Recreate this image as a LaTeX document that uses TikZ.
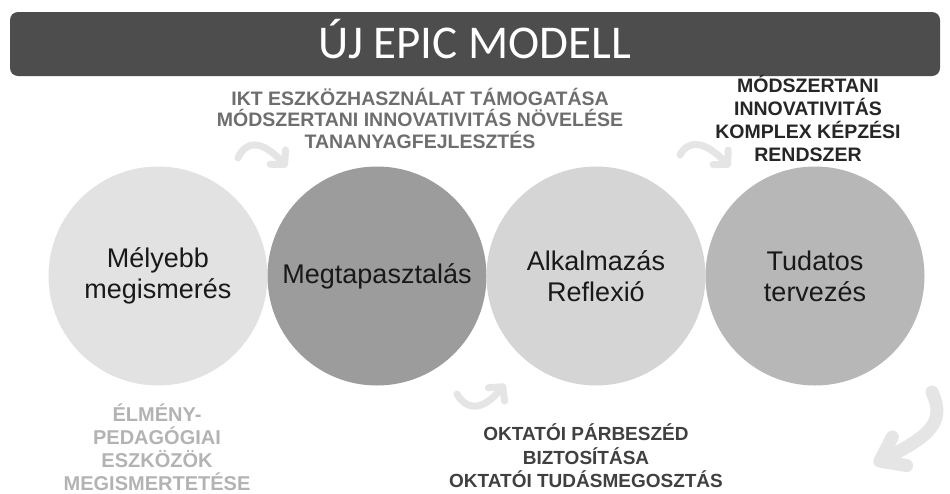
\documentclass[tikz,border=0pt]{standalone}
\usepackage{fontspec}
\setmainfont{Liberation Sans}
\newfontfamily\titlefont{Carlito}
\usetikzlibrary{arrows.meta}
\definecolor{barfill}{HTML}{4D4D4D}
\definecolor{circA}{HTML}{E2E2E2}
\definecolor{circB}{HTML}{9C9C9C}
\definecolor{circC}{HTML}{D5D5D5}
\definecolor{circD}{HTML}{B7B7B7}
\definecolor{swooshgrey}{HTML}{E5E5E5}
\definecolor{capgrey}{HTML}{6E6E6E}
\definecolor{capdark}{HTML}{262626}
\definecolor{caplight}{HTML}{B3B3B3}
\definecolor{capmid}{HTML}{404040}

\begin{document}
\begin{tikzpicture}[x=1pt,y=-1pt,
  stage/.style={circle,minimum size=219pt,inner sep=0pt,align=center,text=black!90,font=\fontsize{27}{31}\selectfont},
  caption/.style={align=center,font=\bfseries\fontsize{19.5}{21.5}\selectfont},
  swoosh/.style={draw=swooshgrey,line width=7pt,line cap=round,line join=round}]
\useasboundingbox (0,0) rectangle (950,493);
\node[fill=barfill,rounded corners=8pt,minimum width=930pt,minimum height=64pt,inner sep=0pt] (bar) at (475,44) {};
\node[anchor=base,text=white,font=\titlefont\fontsize{47}{50}\selectfont] (title) at (475,58) {ÚJ EPIC MODELL};
\draw[swoosh,-{Straight Barb[length=10pt,width=21pt,round]}]
  (238,158) .. controls (246,140) and (262,140) .. (287,167);
\draw[swoosh,-{Straight Barb[length=10pt,width=21pt,round]}]
  (680,155) .. controls (688,140) and (704,140) .. (730,167);
\draw[swoosh,-{Straight Barb[length=10pt,width=21pt,round]}]
  (457,394) .. controls (466,410) and (482,412) .. (505,384);
\draw[swoosh,line width=13pt,-{Straight Barb[length=22pt,width=32pt,round]}]
  (932,392) .. controls (946,422) and (930,436) .. (874,464);
\node[stage,fill=circA] (deeper) at (158,276) {Mélyebb\\megismerés};
\node[stage,fill=circB] (experience) at (377,276) {Megtapasztalás};
\node[stage,fill=circC] (apply) at (596,276) {Alkalmazás\\Reflexió};
\node[stage,fill=circD] (plan) at (815,276) {Tudatos\\tervezés};
\node[caption,text=capgrey] (ikt) at (420,118)
  {IKT ESZKÖZHASZNÁLAT TÁMOGATÁSA\\MÓDSZERTANI INNOVATIVITÁS NÖVELÉSE\\TANANYAGFEJLESZTÉS};
\node[caption,text=capdark,font=\bfseries\fontsize{19.5}{23}\selectfont] (method) at (808,118.5)
  {MÓDSZERTANI\\INNOVATIVITÁS\\KOMPLEX KÉPZÉSI\\RENDSZER};
\node[caption,text=caplight,font=\bfseries\fontsize{20}{23}\selectfont] (tools) at (157,447)
  {ÉLMÉNY-\\PEDAGÓGIAI\\ESZKÖZÖK\\MEGISMERTETÉSE};
\node[caption,text=capmid,font=\bfseries\fontsize{19}{23.5}\selectfont] (dialogue) at (586,456)
  {OKTATÓI PÁRBESZÉD\\BIZTOSÍTÁSA\\OKTATÓI TUDÁSMEGOSZTÁS};
\end{tikzpicture}
\end{document}
